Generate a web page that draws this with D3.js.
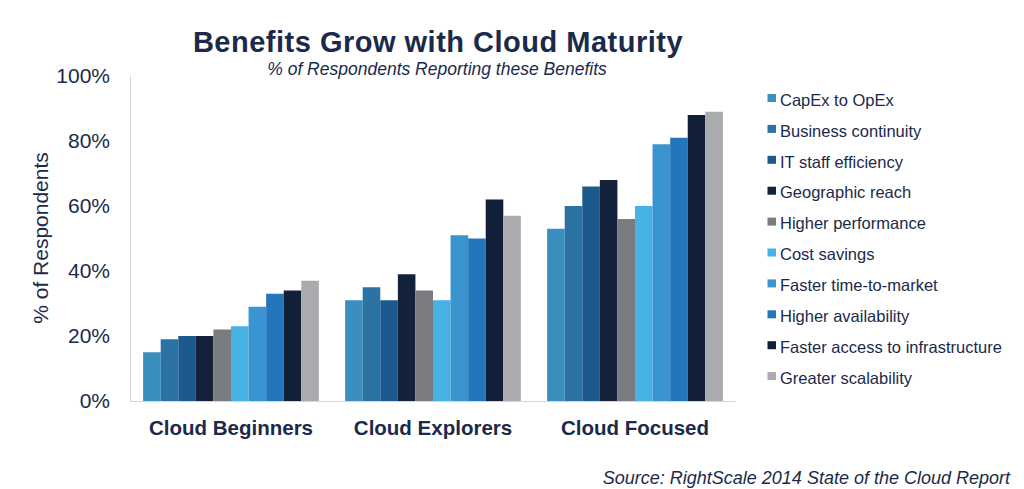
<!DOCTYPE html>
<html>
<head>
<meta charset="utf-8">
<script src="https://cdn.jsdelivr.net/npm/d3@7"></script>
<style>
  html, body { margin: 0; padding: 0; background: #fff; }
  svg { display: block; font-family: "Liberation Sans", Arial, sans-serif; }
</style>
</head>
<body>
<svg id="chart" width="1024" height="489"></svg>
<script>
const categories = ["Cloud Beginners", "Cloud Explorers", "Cloud Focused"];
const seriesNames = ["CapEx to OpEx", "Business continuity", "IT staff efficiency", "Geographic reach",
  "Higher performance", "Cost savings", "Faster time-to-market", "Higher availability",
  "Faster access to infrastructure", "Greater scalability"];
const seriesColors = ["#3a8fbf", "#2a73a3", "#1c5a8d", "#14213a", "#7b7c80",
  "#47b2e4", "#3a94d0", "#2476bc", "#121f38", "#a9abaf"];
const beginnersValues = [15, 19, 20, 20, 22, 23, 29, 33, 34, 37];
const explorersValues = [31, 35, 31, 39, 34, 31, 51, 50, 62, 57];
const focusedValues = [53, 60, 66, 68, 56, 60, 79, 81, 88, 89];
const yTicks = [0, 20, 40, 60, 80, 100];

const groupValues = [beginnersValues, explorersValues, focusedValues];
const textColor = "#1b2a4a";
const svg = d3.select("#chart");

const x0 = d3.scaleBand().domain(categories).range([130, 736]).paddingInner(0.13).paddingOuter(0.065);
const x1 = d3.scaleBand().domain(seriesNames).range([0, x0.bandwidth()]);
const y = d3.scaleLinear().domain([0, 100]).range([401, 76]);

// title
svg.append("text").attr("x", 438).attr("y", 52).attr("text-anchor", "middle")
  .attr("font-size", 29).attr("font-weight", "bold").attr("fill", textColor)
  .attr("letter-spacing", 0.5)
  .text("Benefits Grow with Cloud Maturity");
svg.append("text").attr("x", 437).attr("y", 75).attr("text-anchor", "middle")
  .attr("font-size", 17.5).attr("font-style", "italic").attr("fill", textColor)
  .text("% of Respondents Reporting these Benefits");

// bars
const g = svg.append("g");
categories.forEach((c, ci) => {
  g.append("g").attr("transform", `translate(${x0(c)},0)`)
    .selectAll("rect").data(groupValues[ci]).join("rect")
    .attr("x", (d, i) => x1(seriesNames[i]))
    .attr("width", x1.bandwidth())
    .attr("y", d => y(d))
    .attr("height", d => y(0) - y(d))
    .attr("fill", (d, i) => seriesColors[i]);
});

// axes lines
svg.append("line").attr("x1", 130.5).attr("x2", 130.5).attr("y1", 75).attr("y2", 401)
  .attr("stroke", "#d6d6d6").attr("stroke-width", 1);
svg.append("line").attr("x1", 130).attr("x2", 736).attr("y1", 401.5).attr("y2", 401.5)
  .attr("stroke", "#d6d6d6").attr("stroke-width", 1);

// y axis
const yAxis = d3.axisLeft(y).tickValues(yTicks).tickFormat(d => d + "%").tickSize(0).tickPadding(0);
const ya = svg.append("g").attr("transform", "translate(110,0)").call(yAxis);
ya.select(".domain").remove();
ya.selectAll("text").attr("font-size", 21).attr("fill", textColor)
  .attr("font-family", "Liberation Sans, Arial, sans-serif");

svg.append("text").attr("transform", "translate(41,238) rotate(-90)")
  .attr("text-anchor", "middle").attr("dy", "0.35em")
  .attr("font-size", 21).attr("fill", textColor).text("% of Respondents");

// x axis labels
const xAxis = d3.axisBottom(x0).tickSize(0).tickPadding(0);
const xa = svg.append("g").attr("transform", "translate(0,435)").call(xAxis);
xa.select(".domain").remove();
xa.selectAll("text").attr("dy", 0).attr("font-size", 20.5).attr("font-weight", "bold").attr("fill", textColor)
  .attr("font-family", "Liberation Sans, Arial, sans-serif");

// legend
const leg = svg.append("g");
seriesNames.forEach((s, i) => {
  const base = 105.7 + i * 30.9;
  leg.append("rect").attr("x", 767.5).attr("y", base - 11.7).attr("width", 8.5).attr("height", 8)
    .attr("fill", seriesColors[i]);
  leg.append("text").attr("x", 780).attr("y", base)
    .attr("font-size", 16.5).attr("fill", textColor).text(s);
});

// source
svg.append("text").attr("x", 1010).attr("y", 484).attr("text-anchor", "end")
  .attr("font-size", 18).attr("font-style", "italic").attr("fill", textColor)
  .text("Source: RightScale 2014 State of the Cloud Report");
</script>
</body>
</html>
